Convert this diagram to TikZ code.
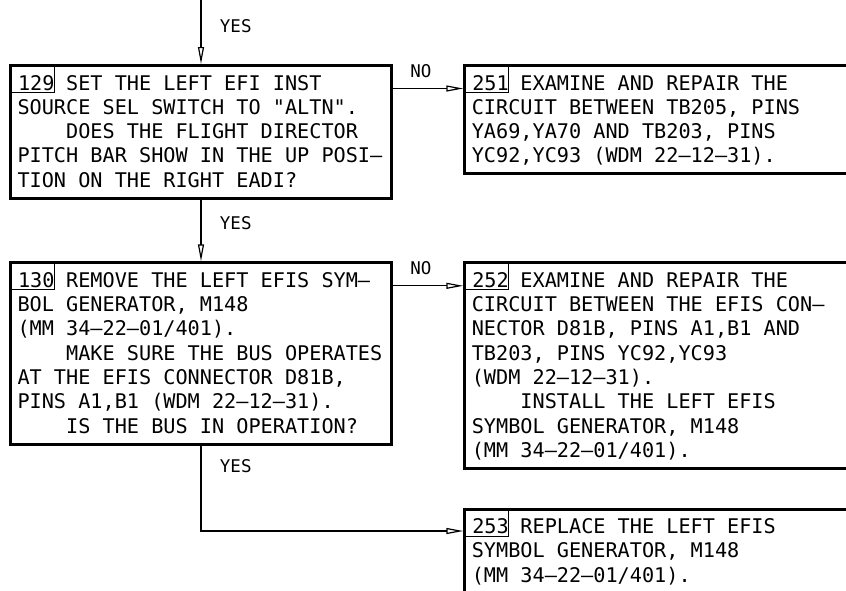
\documentclass[tikz,border=0pt]{standalone}
\usepackage{fontspec}
\setmonofont{DejaVu Sans Mono}
\usetikzlibrary{arrows.meta}

\newcommand{\indnt}{\phantom{0000}}
\newcommand{\firstln}{\rule{0pt}{20.5pt}}
\newcommand{\lastln}{\rule[-6.8pt]{0pt}{6.8pt}}

\begin{document}
\begin{tikzpicture}[
        x=1pt, y=-1pt,
        stepbox/.style={draw, line width=3pt, outer sep=0pt, anchor=north west,
            inner xsep=7pt, inner ysep=4pt, text width=#1, align=flush left,
            font=\ttfamily\fontsize{20.2pt}{24.33pt}\selectfont\frenchspacing},
        stepbox/.default=367pt,
        numtag/.style={draw, line width=0.9pt, outer sep=0pt, anchor=north west,
            inner sep=0pt, text width=44pt, align=flush right,
            text height=24.5pt, text depth=2.5pt,
            font=\ttfamily\fontsize{20.2pt}{24.33pt}\selectfont},
        flow/.style={line width=1.2pt, shorten >=1.5pt,
            -{Triangle[open, length=17pt, width=6pt]}},
        lbl/.style={font=\ttfamily\fontsize{17.5pt}{20pt}\selectfont,
            anchor=base west, xshift=15pt},
        yeslbl/.style={lbl, pos=0.49},
        nolbl/.style={lbl, pos=0, yshift=11pt},
    ]

    \path[use as bounding box] (0,0) rectangle (846,590);

    % =============================================
    % STEP 129 / 251
    % =============================================
    \node[stepbox] (s129) at (10.5, 65.5)
        {\firstln\phantom{129} SET THE LEFT EFI INST\\
         SOURCE SEL SWITCH TO "ALTN".\\
         \indnt DOES THE FLIGHT DIRECTOR\\
         PITCH BAR SHOW IN THE UP POSI–\\
         TION ON THE RIGHT EADI?\lastln};
    \node[stepbox=400pt] (s251) at (464.8, 65.5)
        {\firstln\phantom{251} EXAMINE AND REPAIR THE\\
         CIRCUIT BETWEEN TB205, PINS\\
         YA69,YA70 AND TB203, PINS\\
         YC92,YC93 (WDM 22–12–31).\lastln};

    \node[numtag] (n129) at (s129.north west) {129};
    \node[numtag] (n251) at (s251.north west) {251};

    \coordinate (in129) at (201, 0);
    \draw[flow] (in129) -- node[yeslbl] {YES} (s129.north);
    \draw[flow] ([yshift=-23pt]s129.north east) --
        node[nolbl] {NO} ([yshift=-23pt]s251.north west);

    % =============================================
    % STEP 130 / 252 / 253
    % =============================================
    \node[stepbox] (s130) at (10.5, 262.8)
        {\firstln\phantom{130} REMOVE THE LEFT EFIS SYM–\\
         BOL GENERATOR, M148\\
         (MM 34–22–01/401).\\
         \indnt MAKE SURE THE BUS OPERATES\\
         AT THE EFIS CONNECTOR D81B,\\
         PINS A1,B1 (WDM 22–12–31).\\
         \indnt IS THE BUS IN OPERATION?\lastln};
    \node[stepbox=400pt] (s252) at (464.8, 262.8)
        {\firstln\phantom{252} EXAMINE AND REPAIR THE\\
         CIRCUIT BETWEEN THE EFIS CON–\\
         NECTOR D81B, PINS A1,B1 AND\\
         TB203, PINS YC92,YC93\\
         (WDM 22–12–31).\\
         \indnt INSTALL THE LEFT EFIS\\
         SYMBOL GENERATOR, M148\\
         (MM 34–22–01/401).\lastln};
    \node[stepbox=400pt] (s253) at (464.8, 509)
        {\firstln\phantom{253} REPLACE THE LEFT EFIS\\
         SYMBOL GENERATOR, M148\\
         (MM 34–22–01/401).\lastln};

    \node[numtag] (n130) at (s130.north west) {130};
    \node[numtag] (n252) at (s252.north west) {252};
    \node[numtag] (n253) at (s253.north west) {253};

    \draw[flow] (s129.south) -- node[yeslbl] {YES} (s130.north);
    \draw[flow] ([yshift=-23pt]s130.north east) --
        node[nolbl] {NO} ([yshift=-23pt]s252.north west);
    \draw[flow] (s130.south) |- node[yeslbl, pos=0.165] {YES}
        ([yshift=-22pt]s253.north west);

\end{tikzpicture}
\end{document}
